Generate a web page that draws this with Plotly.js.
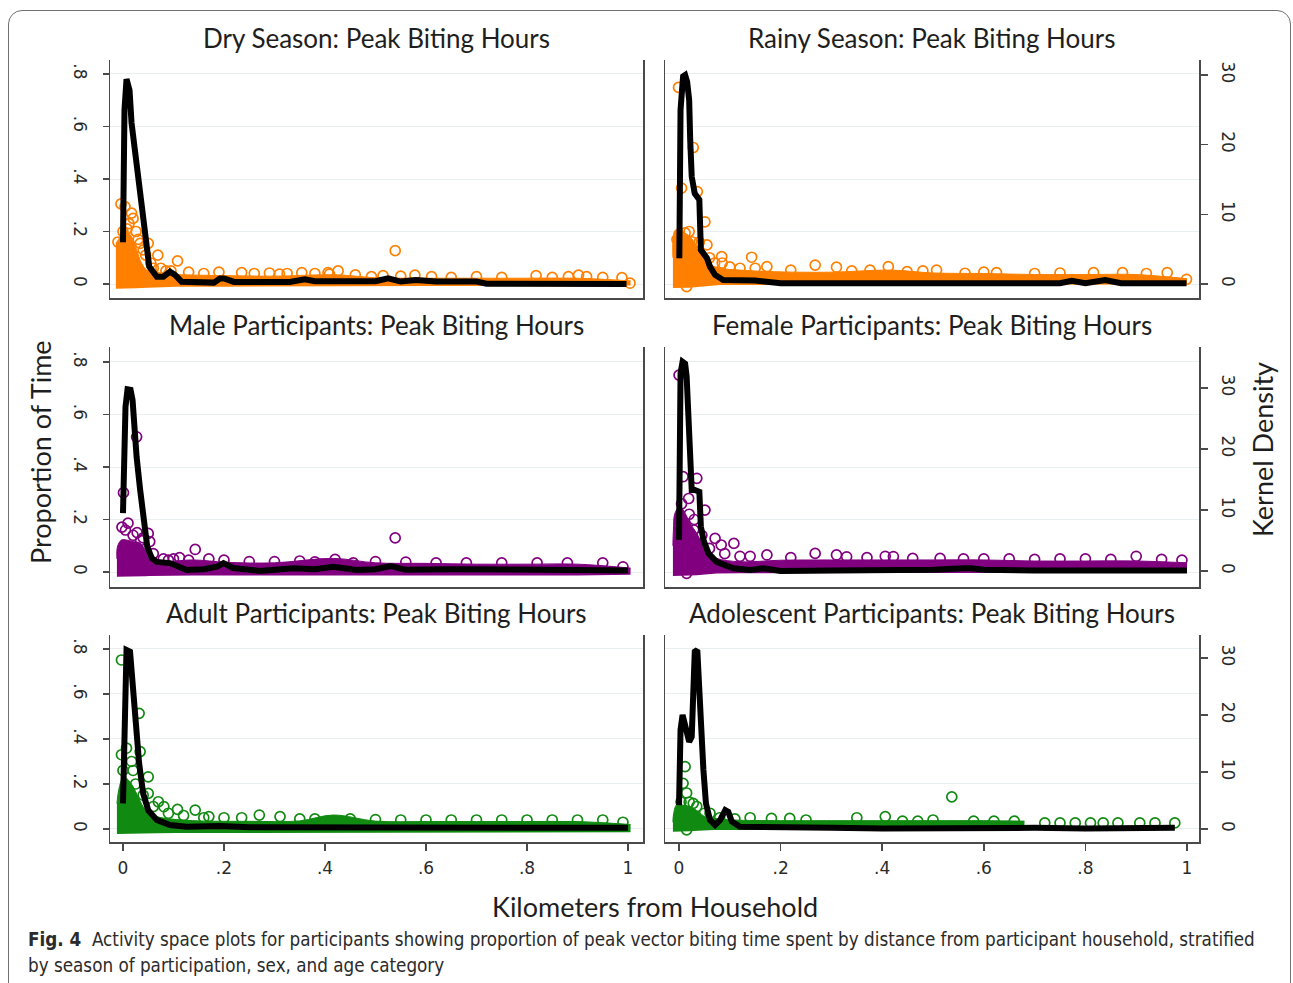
<!DOCTYPE html>
<html>
<head>
<meta charset="utf-8">
<script src="https://cdn.plot.ly/plotly-3.0.1.min.js"></script>
<style>
  html, body { margin:0; padding:0; background:#fff; overflow:hidden; }
  #chart { position:absolute; left:0; top:0; width:1293px; height:983px; }
  #frame { position:absolute; left:8px; top:10px; width:1283px; height:1100px;
           border:1.5px solid #707070; border-radius:14px; pointer-events:none; box-sizing:border-box; }
</style>
</head>
<body>
<div id="chart"></div>
<div id="frame"></div>
<script>
// ---------------- DATA ----------------
const panelTitles = [
  "Dry Season: Peak Biting Hours", "Rainy Season: Peak Biting Hours",
  "Male Participants: Peak Biting Hours", "Female Participants: Peak Biting Hours",
  "Adult Participants: Peak Biting Hours", "Adolescent Participants: Peak Biting Hours"
];
const xTickVals = [0, 0.2, 0.4, 0.6, 0.8, 1];
const xTickText = ["0", ".2", ".4", ".6", ".8", "1"];
const yTickVals = [0, 0.2, 0.4, 0.6, 0.8];
const yTickText = ["0", ".2", ".4", ".6", ".8"];
const y2TickVals = [0, 10, 20, 30];
const y2TickText = ["0", "10", "20", "30"];
const xAxisTitle = "Kilometers from Household";
const yAxisTitle = "Proportion of Time";
const y2AxisTitle = "Kernel Density";
const captionBold = "Fig. 4";
const captionLine1 = "Activity space plots for participants showing proportion of peak vector biting time spent by distance from participant household, stratified";
const captionLine2 = "by season of participation, sex, and age category";

// Dry season
const dryBandX   = [-0.014, -0.006, 0.001, 0.007, 0.017, 0.027, 0.037, 0.047, 0.067, 0.106, 0.2, 0.3, 0.42, 0.5, 0.6, 0.7, 0.8, 0.9, 1.005];
const dryBandTop = [0.155, 0.18, 0.23, 0.205, 0.18, 0.13, 0.079, 0.053, 0.041, 0.036, 0.032, 0.03, 0.035, 0.024, 0.022, 0.022, 0.022, 0.022, 0.012];
const dryBandBot = [-0.018, -0.018, -0.018, -0.018, -0.018, -0.016, -0.015, -0.014, -0.012, -0.01, -0.01, -0.009, -0.008, -0.008, -0.008, -0.008, -0.008, -0.008, -0.006];
const dryPtsX = [-0.004, 0.004, 0.017, 0.02, 0.008, 0.026, 0.034, 0.05, 0.045, 0.069, 0.108, 0.06, 0.085, 0.13, 0.16, 0.19, 0.235, 0.26, 0.29, 0.31, 0.325, 0.354, 0.38, 0.406, 0.409, 0.426, 0.46, 0.492, 0.515, 0.539, 0.55, 0.578, 0.611, 0.65, 0.70, 0.75, 0.818, 0.85, 0.882, 0.902, 0.918, 0.95, 0.988, 1.004, 0.012, 0.03, 0.04, 0.055, 0.075, 0.095, -0.01, 0.0];
const dryPtsY = [0.305, 0.295, 0.27, 0.25, 0.21, 0.2, 0.155, 0.155, 0.11, 0.11, 0.088, 0.06, 0.05, 0.045, 0.04, 0.045, 0.043, 0.04, 0.042, 0.038, 0.04, 0.043, 0.04, 0.043, 0.038, 0.05, 0.035, 0.028, 0.032, 0.127, 0.03, 0.034, 0.028, 0.025, 0.028, 0.025, 0.032, 0.025, 0.028, 0.034, 0.028, 0.025, 0.024, 0.003, 0.23, 0.17, 0.13, 0.08, 0.06, 0.05, 0.16, 0.2];
const dryDenX = [0.0, 0.001, 0.003, 0.007, 0.013, 0.017, 0.024, 0.030, 0.039, 0.046, 0.052, 0.067, 0.080, 0.093, 0.103, 0.116, 0.18, 0.192, 0.2, 0.22, 0.33, 0.36, 0.38, 0.5, 0.525, 0.55, 0.58, 0.62, 0.70, 0.72, 0.8, 0.9, 0.997];
const dryDenY = [6.0, 15.9, 25.0, 29.4, 27.8, 23.1, 18.8, 14.5, 9.7, 4.9, 2.5, 1.05, 1.05, 1.77, 1.3, 0.33, 0.2, 0.8, 0.8, 0.3, 0.3, 0.67, 0.4, 0.4, 0.82, 0.35, 0.57, 0.35, 0.35, 0.05, 0.05, 0.05, 0.0];

// Rainy season
const rainyBandX   = [-0.012, -0.011, -0.005, 0.005, 0.022, 0.031, 0.041, 0.051, 0.058, 0.064, 0.081, 0.12, 0.186, 0.3, 0.415, 0.5, 0.6, 0.7, 0.8, 0.9, 1.0];
const rainyBandTop = [0.1, 0.18, 0.205, 0.2, 0.18, 0.155, 0.13, 0.117, 0.085, 0.072, 0.06, 0.053, 0.047, 0.045, 0.053, 0.042, 0.04, 0.036, 0.036, 0.036, 0.02];
const rainyBandBot = [-0.015, -0.015, -0.015, -0.015, -0.014, -0.012, -0.01, -0.008, -0.006, -0.005, -0.004, -0.004, -0.004, -0.004, -0.004, -0.004, -0.004, -0.004, -0.004, -0.004, -0.002];
const rainyPtsX = [-0.001, 0.028, 0.005, 0.036, 0.051, 0.012, -0.004, 0.025, 0.055, 0.015, 0.084, 0.143, 0.085, 0.15, 0.173, 0.22, 0.268, 0.31, 0.34, 0.376, 0.412, 0.449, 0.48, 0.507, 0.563, 0.6, 0.625, 0.7, 0.75, 0.816, 0.873, 0.92, 0.961, 0.999, 0.0, 0.02, 0.04, 0.06, 0.07, 0.1, 0.12];
const rainyPtsY = [0.749, 0.52, 0.365, 0.352, 0.237, 0.195, 0.17, 0.161, 0.149, -0.01, 0.104, 0.102, 0.08, 0.06, 0.066, 0.053, 0.072, 0.064, 0.05, 0.053, 0.066, 0.047, 0.05, 0.053, 0.041, 0.045, 0.043, 0.04, 0.042, 0.043, 0.043, 0.04, 0.043, 0.018, 0.19, 0.2, 0.16, 0.1, 0.08, 0.065, 0.06];
const rainyDenX = [0.0006, 0.001, 0.003, 0.008, 0.012, 0.016, 0.020, 0.022, 0.025, 0.031, 0.040, 0.043, 0.055, 0.061, 0.071, 0.087, 0.15, 0.2, 0.4, 0.6, 0.75, 0.773, 0.8, 0.839, 0.87, 0.999];
const rainyDenY = [3.7, 14.5, 25.0, 29.8, 30.0, 29.0, 26.4, 20.7, 15.4, 13.0, 12.1, 4.9, 3.7, 2.5, 1.3, 0.57, 0.5, 0.1, 0.1, 0.1, 0.1, 0.47, 0.1, 0.57, 0.1, 0.1];

// Male participants
const maleBandX   = [-0.012, -0.011, -0.003, 0.007, 0.02, 0.034, 0.044, 0.053, 0.073, 0.139, 0.205, 0.3, 0.416, 0.5, 0.6, 0.7, 0.8, 0.9, 1.005];
const maleBandTop = [0.05, 0.096, 0.122, 0.122, 0.116, 0.11, 0.084, 0.046, 0.039, 0.046, 0.037, 0.035, 0.052, 0.035, 0.033, 0.03, 0.03, 0.03, 0.015];
const maleBandBot = [-0.018, -0.018, -0.018, -0.018, -0.018, -0.017, -0.016, -0.015, -0.014, -0.013, -0.013, -0.013, -0.013, -0.013, -0.013, -0.013, -0.013, -0.013, -0.01];
const malePtsX = [0.001, -0.002, 0.01, 0.028, 0.027, 0.05, 0.053, 0.04, 0.143, 0.112, 0.09, 0.17, 0.2, 0.25, 0.3, 0.35, 0.38, 0.42, 0.456, 0.5, 0.539, 0.56, 0.62, 0.68, 0.75, 0.82, 0.88, 0.95, 0.99, 0.005, 0.02, 0.035, 0.06, 0.08, 0.1, 0.13];
const malePtsY = [0.302, 0.171, 0.186, 0.15, 0.515, 0.147, 0.116, 0.13, 0.086, 0.055, 0.045, 0.05, 0.045, 0.04, 0.04, 0.042, 0.039, 0.048, 0.035, 0.04, 0.13, 0.038, 0.035, 0.035, 0.035, 0.035, 0.035, 0.035, 0.02, 0.16, 0.14, 0.12, 0.07, 0.05, 0.05, 0.045];
const maleDenX = [0.0, 0.002, 0.005, 0.009, 0.015, 0.019, 0.022, 0.027, 0.034, 0.042, 0.048, 0.057, 0.067, 0.093, 0.126, 0.16, 0.186, 0.199, 0.218, 0.271, 0.337, 0.38, 0.416, 0.463, 0.5, 0.53, 0.56, 0.65, 0.75, 0.85, 0.95, 1.0];
const maleDenY = [9.5, 16.0, 26.9, 29.8, 29.7, 28.0, 23.7, 18.7, 13.3, 7.8, 4.0, 2.1, 1.5, 1.3, 0.16, 0.3, 0.7, 1.3, 0.5, 0.0, 0.44, 0.3, 0.7, 0.16, 0.3, 0.8, 0.2, 0.3, 0.2, 0.2, 0.2, 0.1];

// Female participants
const femaleBandX   = [-0.012, -0.011, -0.008, 0.002, 0.012, 0.022, 0.035, 0.045, 0.055, 0.074, 0.12, 0.2, 0.3, 0.4, 0.5, 0.6, 0.7, 0.8, 0.9, 1.0];
const femaleBandTop = [0.1, 0.16, 0.224, 0.249, 0.224, 0.185, 0.147, 0.109, 0.071, 0.052, 0.039, 0.045, 0.046, 0.046, 0.046, 0.046, 0.042, 0.042, 0.042, 0.035];
const femaleBandBot = [-0.015, -0.015, -0.015, -0.015, -0.014, -0.013, -0.012, -0.01, -0.008, -0.006, -0.005, -0.004, -0.004, -0.004, -0.004, -0.004, -0.004, -0.004, -0.004, -0.004];
const femalePtsX = [0.0, 0.008, 0.035, 0.019, 0.051, 0.029, 0.071, 0.083, 0.108, 0.015, 0.14, 0.173, 0.22, 0.268, 0.31, 0.33, 0.37, 0.406, 0.422, 0.46, 0.514, 0.56, 0.6, 0.65, 0.7, 0.75, 0.8, 0.85, 0.9, 0.95, 0.99, 0.005, 0.02, 0.03, 0.045, 0.06, 0.09, 0.12];
const femalePtsY = [0.75, 0.363, 0.357, 0.28, 0.236, 0.16, 0.128, 0.103, 0.109, -0.005, 0.06, 0.065, 0.055, 0.071, 0.065, 0.058, 0.055, 0.06, 0.059, 0.052, 0.052, 0.05, 0.05, 0.05, 0.048, 0.05, 0.05, 0.048, 0.06, 0.048, 0.045, 0.26, 0.22, 0.2, 0.14, 0.09, 0.07, 0.06];
const femaleDenX = [0.0, 0.001, 0.003, 0.007, 0.012, 0.015, 0.018, 0.022, 0.025, 0.031, 0.040, 0.043, 0.048, 0.058, 0.074, 0.107, 0.140, 0.166, 0.2, 0.3, 0.4, 0.5, 0.57, 0.6, 0.7, 0.8, 0.9, 1.0];
const femaleDenY = [5.1, 17.1, 32.4, 34.3, 34.0, 31.9, 25.8, 19.3, 13.3, 13.3, 13.0, 7.3, 5.1, 2.9, 1.5, 0.44, 0.16, 0.44, 0.0, 0.1, 0.1, 0.2, 0.5, 0.2, 0.1, 0.1, 0.1, 0.1];

// Adult participants
const adultBandX   = [-0.012, -0.007, 0.001, 0.011, 0.02, 0.03, 0.04, 0.05, 0.067, 0.106, 0.15, 0.25, 0.35, 0.416, 0.5, 0.6, 0.7, 0.8, 0.9, 1.005];
const adultBandTop = [0.113, 0.188, 0.232, 0.217, 0.188, 0.143, 0.099, 0.077, 0.055, 0.042, 0.036, 0.034, 0.036, 0.062, 0.035, 0.033, 0.033, 0.033, 0.033, 0.02];
const adultBandBot = [-0.022, -0.022, -0.022, -0.022, -0.022, -0.021, -0.02, -0.02, -0.019, -0.018, -0.018, -0.018, -0.018, -0.018, -0.018, -0.018, -0.018, -0.018, -0.018, -0.015];
const adultPtsX = [-0.003, 0.032, 0.007, 0.034, -0.003, 0.017, 0.05, 0.02, 0.05, 0.07, 0.081, 0.108, 0.143, 0.17, 0.2, 0.235, 0.27, 0.311, 0.35, 0.38, 0.45, 0.5, 0.55, 0.6, 0.65, 0.7, 0.75, 0.8, 0.85, 0.9, 0.95, 0.99, 0.0, 0.025, 0.04, 0.06, 0.09, 0.12, 0.16];
const adultPtsY = [0.751, 0.514, 0.359, 0.344, 0.33, 0.3, 0.232, 0.26, 0.158, 0.121, 0.099, 0.087, 0.084, 0.055, 0.05, 0.05, 0.062, 0.055, 0.045, 0.045, 0.045, 0.042, 0.04, 0.04, 0.04, 0.04, 0.04, 0.04, 0.04, 0.04, 0.04, 0.03, 0.26, 0.2, 0.15, 0.1, 0.07, 0.06, 0.05];
const adultDenX = [0.0, 0.002, 0.005, 0.007, 0.014, 0.017, 0.022, 0.026, 0.032, 0.040, 0.050, 0.067, 0.093, 0.126, 0.192, 0.25, 0.337, 0.45, 0.55, 0.65, 0.75, 0.85, 0.95, 1.0];
const adultDenY = [4.5, 15.6, 27.3, 31.4, 31.1, 27.9, 23.2, 17.4, 11.5, 6.2, 3.3, 1.6, 0.7, 0.4, 0.53, 0.3, 0.26, 0.3, 0.25, 0.25, 0.25, 0.25, 0.25, 0.2];

// Adolescent participants
const adolBandX   = [-0.012, -0.011, -0.005, 0.004, 0.022, 0.038, 0.051, 0.067, 0.107, 0.2, 0.3, 0.4, 0.5, 0.6, 0.68];
const adolBandTop = [0.03, 0.062, 0.107, 0.107, 0.099, 0.077, 0.055, 0.048, 0.04, 0.037, 0.037, 0.037, 0.037, 0.037, 0.035];
const adolBandBot = [-0.012, -0.012, -0.012, -0.012, -0.01, -0.008, -0.006, -0.005, -0.004, -0.004, -0.004, -0.004, -0.004, -0.004, -0.004];
const adolPtsX = [0.012, 0.008, 0.015, 0.028, 0.015, 0.061, 0.09, 0.14, 0.182, 0.218, 0.25, 0.35, 0.406, 0.44, 0.47, 0.5, 0.537, 0.58, 0.62, 0.66, 0.72, 0.75, 0.78, 0.81, 0.835, 0.864, 0.907, 0.937, 0.976, 0.004, 0.02, 0.035, 0.05, 0.08, 0.11];
const adolPtsY = [0.277, 0.203, 0.16, 0.114, -0.004, 0.07, 0.05, 0.05, 0.047, 0.047, 0.04, 0.05, 0.055, 0.035, 0.035, 0.04, 0.143, 0.035, 0.035, 0.035, 0.027, 0.027, 0.027, 0.027, 0.027, 0.027, 0.027, 0.027, 0.027, 0.12, 0.12, 0.1, 0.07, 0.05, 0.045];
const adolDenX = [0.0, 0.001, 0.003, 0.007, 0.012, 0.020, 0.025, 0.028, 0.031, 0.036, 0.040, 0.043, 0.048, 0.053, 0.061, 0.071, 0.081, 0.091, 0.097, 0.104, 0.120, 0.2, 0.3, 0.4, 0.5, 0.6, 0.7, 0.8, 0.9, 0.976];
const adolDenY = [4.2, 11.5, 17.4, 20.0, 17.9, 15.3, 16.2, 23.2, 31.1, 31.4, 26.1, 19.1, 10.4, 4.5, 1.6, 0.7, 1.6, 3.3, 3.0, 1.3, 0.4, 0.2, 0.2, 0.1, 0.2, 0.1, 0.2, 0.1, 0.2, 0.2];

// ---------------- STYLE / LAYOUT ----------------
const W = 1293, H = 983;
const colOrange = "#ff8000", colPurple = "#800080", colGreen = "#118a11";
const colX = [[110, 643], [665, 1199]];           // px left/right of panels
const rowY = [[60, 298], [347, 587], [635, 842]]; // px top/bottom of panels
const xRanges = [[-0.0257, 1.0297], [-0.0276, 1.0236]];
const yRanges = [[-0.0533, 0.8533], [-0.057, 0.857], [-0.0578, 0.862]];
const y2Ranges = [[-2.01, 32.15], [-2.62, 36.72], [-2.28, 34.04]];
const axisCol = "#4a4a4a", gridCol = "#e9eff0", tickFontCol = "#2a2a2a";
const tickFont = {family: "DejaVu Sans, Verdana, sans-serif", size: 17, color: tickFontCol};
const titleFont = {family: "Lato, Open Sans, sans-serif", size: 26, color: "#1e1e1e"};
const axTitleFont = {family: "Lato, Open Sans, sans-serif", size: 27, color: "#1e1e1e"};
const capFont = {family: "DejaVu Sans Condensed, sans-serif", size: 18.7, color: "#2b2b2b"};

const panels = [
  {bx: dryBandX, bt: dryBandTop, bb: dryBandBot, px: dryPtsX, py: dryPtsY, dx: dryDenX, dy: dryDenY, col: colOrange},
  {bx: rainyBandX, bt: rainyBandTop, bb: rainyBandBot, px: rainyPtsX, py: rainyPtsY, dx: rainyDenX, dy: rainyDenY, col: colOrange},
  {bx: maleBandX, bt: maleBandTop, bb: maleBandBot, px: malePtsX, py: malePtsY, dx: maleDenX, dy: maleDenY, col: colPurple},
  {bx: femaleBandX, bt: femaleBandTop, bb: femaleBandBot, px: femalePtsX, py: femalePtsY, dx: femaleDenX, dy: femaleDenY, col: colPurple},
  {bx: adultBandX, bt: adultBandTop, bb: adultBandBot, px: adultPtsX, py: adultPtsY, dx: adultDenX, dy: adultDenY, col: colGreen},
  {bx: adolBandX, bt: adolBandTop, bb: adolBandBot, px: adolPtsX, py: adolPtsY, dx: adolDenX, dy: adolDenY, col: colGreen}
];

const data = [];
const layout = {
  width: W, height: H, margin: {l: 0, r: 0, t: 0, b: 0},
  paper_bgcolor: "#ffffff", plot_bgcolor: "rgba(0,0,0,0)",
  showlegend: false, annotations: [],
  font: {family: "DejaVu Sans, sans-serif", color: "#222"}
};

panels.forEach((p, i) => {
  const row = Math.floor(i / 2), col = i % 2;
  const n = i + 1;
  const xa = n === 1 ? "x" : "x" + n;
  const ya = n === 1 ? "y" : "y" + n;
  const y2n = n + 6;
  const y2a = "y" + y2n;
  const bottomRow = row === 2;

  layout[n === 1 ? "xaxis" : "xaxis" + n] = {
    domain: [colX[col][0] / W, colX[col][1] / W], anchor: ya, range: xRanges[col],
    showline: true, linecolor: axisCol, linewidth: 1.5, mirror: false,
    showgrid: false, zeroline: false,
    tickmode: "array", tickvals: xTickVals, ticktext: xTickText,
    ticks: bottomRow ? "outside" : "", ticklen: 7, tickwidth: 1.5, tickcolor: axisCol,
    showticklabels: bottomRow, tickfont: tickFont, ticklabelstandoff: 3
  };
  layout[n === 1 ? "yaxis" : "yaxis" + n] = {
    domain: [1 - rowY[row][1] / H, 1 - rowY[row][0] / H], anchor: xa, range: yRanges[row],
    showline: true, linecolor: axisCol, linewidth: 1.5,
    showgrid: true, gridcolor: gridCol, gridwidth: 1, zeroline: false,
    tickmode: "array", tickvals: yTickVals, ticktext: yTickText,
    ticks: col === 0 ? "outside" : "", ticklen: 6, tickwidth: 1.5, tickcolor: axisCol,
    showticklabels: col === 0, tickfont: tickFont, tickangle: 90, ticklabelstandoff: 8
  };
  layout["yaxis" + y2n] = {
    overlaying: ya, side: "right", anchor: xa, range: y2Ranges[row],
    showline: true, linecolor: axisCol, linewidth: 1.5,
    showgrid: false, zeroline: false,
    tickmode: "array", tickvals: y2TickVals, ticktext: y2TickText,
    ticks: col === 1 ? "outside" : "", ticklen: 7, tickwidth: 1.5, tickcolor: axisCol,
    showticklabels: col === 1, tickfont: tickFont, tickangle: 90, ticklabelstandoff: 8
  };

  // dense band of overlapping points (lower/upper envelope)
  data.push({type: "scatter", mode: "lines", x: p.bx, y: p.bb, xaxis: xa, yaxis: ya,
             line: {width: 0, color: p.col}, hoverinfo: "skip"});
  data.push({type: "scatter", mode: "lines", x: p.bx, y: p.bt, xaxis: xa, yaxis: ya,
             line: {width: 1, color: p.col, shape: "spline"}, fill: "tonexty", fillcolor: p.col, hoverinfo: "skip"});
  // individual hollow circles
  data.push({type: "scatter", mode: "markers", x: p.px, y: p.py, xaxis: xa, yaxis: ya,
             marker: {symbol: "circle-open", size: 10, color: p.col, line: {width: 1.7, color: p.col}}});
  // kernel density line
  data.push({type: "scatter", mode: "lines", x: p.dx, y: p.dy, xaxis: xa, yaxis: y2a,
             line: {width: 6, color: "#000000"}});

  layout.annotations.push({
    text: panelTitles[i], xref: "paper", yref: "paper",
    x: (colX[col][0] + colX[col][1]) / 2 / W, y: 1 - (rowY[row][0] - 22) / H,
    xanchor: "center", yanchor: "middle", showarrow: false, font: titleFont
  });
});

layout.annotations.push(
  {text: yAxisTitle, xref: "paper", yref: "paper", x: 40 / W, y: 1 - 452 / H, textangle: -90,
   xanchor: "center", yanchor: "middle", showarrow: false, font: axTitleFont},
  {text: y2AxisTitle, xref: "paper", yref: "paper", x: 1263 / W, y: 1 - 450 / H, textangle: -90,
   xanchor: "center", yanchor: "middle", showarrow: false, font: axTitleFont},
  {text: xAxisTitle, xref: "paper", yref: "paper", x: 655 / W, y: 1 - 906 / H,
   xanchor: "center", yanchor: "middle", showarrow: false, font: axTitleFont},
  {text: "<b>" + captionBold + "</b>  " + captionLine1, xref: "paper", yref: "paper", x: 26 / W, y: 1 - 939 / H,
   xanchor: "left", yanchor: "middle", showarrow: false, font: capFont},
  {text: captionLine2, xref: "paper", yref: "paper", x: 26 / W, y: 1 - 965 / H,
   xanchor: "left", yanchor: "middle", showarrow: false, font: capFont}
);

Plotly.newPlot("chart", data, layout, {staticPlot: true, displayModeBar: false});
</script>
</body>
</html>
